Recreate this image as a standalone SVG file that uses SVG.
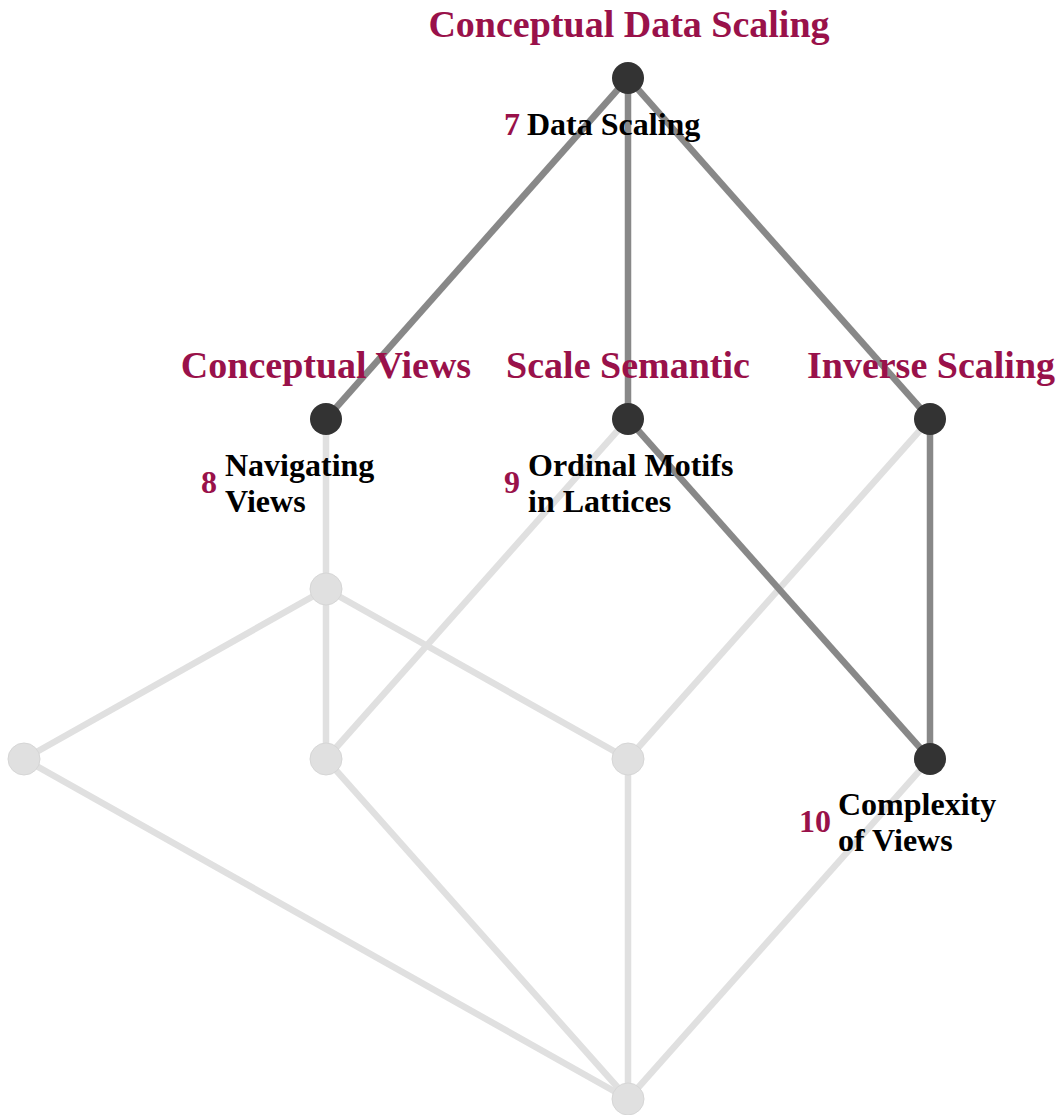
<svg xmlns="http://www.w3.org/2000/svg" width="1062" height="1115" viewBox="0 0 1062 1115">
  <style>
    .edge-hi { stroke: #888888; stroke-width: 6.5; stroke-linecap: butt; fill: none; }
    .edge-lo { stroke: #e0e0e0; stroke-width: 6.5; stroke-linecap: butt; fill: none; }
    .node-hi { fill: #333333; }
    .node-lo { fill: #e0e0e0; stroke: #d6d6d6; stroke-width: 1; }
    .title { font-family: "Liberation Serif", "Times New Roman", serif; font-weight: bold; font-size: 38px; fill: #99114a; text-anchor: middle; }
    .label { font-family: "Liberation Serif", "Times New Roman", serif; font-weight: bold; font-size: 32px; fill: #000000; }
    .num { font-family: "Liberation Serif", "Times New Roman", serif; font-weight: bold; font-size: 32px; fill: #99114a; text-anchor: end; }
  </style>
  <rect width="1062" height="1115" fill="#ffffff"/>

  <g id="connectors">
    <line class="edge-lo" x1="326" y1="419" x2="326" y2="589"/>
    <line class="edge-lo" x1="628" y1="419" x2="326" y2="759"/>
    <line class="edge-lo" x1="930" y1="419" x2="628" y2="759"/>
    <line class="edge-lo" x1="326" y1="589" x2="24" y2="759"/>
    <line class="edge-lo" x1="326" y1="589" x2="326" y2="759"/>
    <line class="edge-lo" x1="326" y1="589" x2="628" y2="759"/>
    <line class="edge-lo" x1="24" y1="759" x2="628" y2="1099"/>
    <line class="edge-lo" x1="326" y1="759" x2="628" y2="1099"/>
    <line class="edge-lo" x1="628" y1="759" x2="628" y2="1099"/>
    <line class="edge-lo" x1="930" y1="759" x2="628" y2="1099"/>
    <line class="edge-hi" x1="628" y1="78" x2="326" y2="419"/>
    <line class="edge-hi" x1="628" y1="78" x2="628" y2="419"/>
    <line class="edge-hi" x1="628" y1="78" x2="930" y2="419"/>
    <line class="edge-hi" x1="628" y1="419" x2="930" y2="759"/>
    <line class="edge-hi" x1="930" y1="419" x2="930" y2="759"/>
  </g>

  <g id="node-bottom"><circle class="node-lo" cx="628" cy="1099" r="16"/></g>
  <g id="node-a"><circle class="node-lo" cx="326" cy="589" r="16"/></g>
  <g id="node-b"><circle class="node-lo" cx="24" cy="759" r="16"/></g>
  <g id="node-c"><circle class="node-lo" cx="326" cy="759" r="16"/></g>
  <g id="node-d"><circle class="node-lo" cx="628" cy="759" r="16"/></g>

  <g id="node-7">
    <circle class="node-hi" cx="628" cy="78" r="16"/>
    <text class="title" x="629" y="37">Conceptual Data Scaling</text>
    <text class="num" x="520" y="135">7</text>
    <text class="label" x="527" y="135">Data Scaling</text>
  </g>

  <g id="node-8">
    <circle class="node-hi" cx="326" cy="419" r="16"/>
    <text class="title" x="326" y="378">Conceptual Views</text>
    <text class="num" x="217" y="493">8</text>
    <text class="label" x="225" y="476">Navigating</text>
    <text class="label" x="225" y="512">Views</text>
  </g>

  <g id="node-9">
    <circle class="node-hi" cx="628" cy="419" r="16"/>
    <text class="title" x="628" y="378">Scale Semantic</text>
    <text class="num" x="520" y="493">9</text>
    <text class="label" x="528" y="476">Ordinal Motifs</text>
    <text class="label" x="528" y="512">in Lattices</text>
  </g>

  <g id="node-inverse">
    <circle class="node-hi" cx="930" cy="419" r="16"/>
    <text class="title" x="931" y="378">Inverse Scaling</text>
  </g>

  <g id="node-10">
    <circle class="node-hi" cx="930" cy="759" r="16"/>
    <text class="num" x="831" y="832">10</text>
    <text class="label" x="838" y="815">Complexity</text>
    <text class="label" x="838" y="851">of Views</text>
  </g>
</svg>
